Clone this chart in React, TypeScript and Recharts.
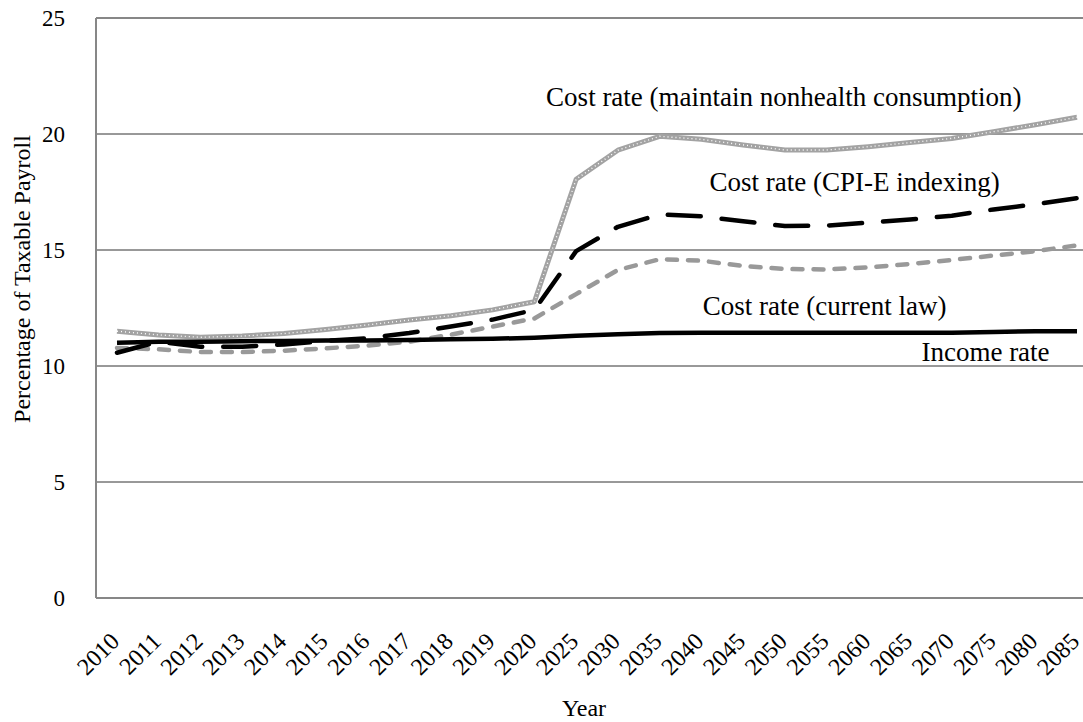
import React from "react";
import {
  CartesianGrid,
  Line,
  LineChart,
  ReferenceDot,
  ReferenceLine,
  XAxis,
  YAxis,
} from "recharts";

const YEARS = [
  "2010", "2011", "2012", "2013", "2014", "2015", "2016", "2017", "2018", "2019", "2020",
  "2025", "2030", "2035", "2040", "2045", "2050", "2055", "2060", "2065", "2070", "2075", "2080", "2085",
];

const INCOME_RATE = [
  11.0, 11.05, 11.05, 11.07, 11.08, 11.1, 11.1, 11.12, 11.15, 11.17, 11.22,
  11.3, 11.37, 11.42, 11.43, 11.43, 11.43, 11.43, 11.43, 11.43, 11.43, 11.47, 11.5, 11.5,
];

const COST_CURRENT_LAW = [
  10.78, 10.72, 10.6, 10.6, 10.66, 10.76, 10.88, 11.05, 11.35, 11.7, 12.05,
  13.1, 14.14, 14.6, 14.54, 14.31, 14.18, 14.16, 14.25, 14.4, 14.57, 14.76, 14.95, 15.2,
];

const COST_CPI_E = [
  10.57, 11.05, 10.83, 10.83, 10.93, 11.08, 11.2, 11.42, 11.7, 12.0, 12.42,
  14.95, 16.0, 16.53, 16.45, 16.24, 16.03, 16.05, 16.18, 16.31, 16.48, 16.75, 16.97, 17.23,
];

const COST_MAINTAIN = [
  11.5, 11.34, 11.24, 11.29, 11.4, 11.57, 11.77, 11.98, 12.17, 12.42, 12.77,
  18.05, 19.3, 19.9, 19.77, 19.53, 19.31, 19.31, 19.45, 19.63, 19.81, 20.1, 20.4, 20.72,
];

const Y_TICKS = [0, 5, 10, 15, 20, 25];

const data = YEARS.map((year, i) => ({
  year,
  income: INCOME_RATE[i],
  currentLaw: COST_CURRENT_LAW[i],
  cpiE: COST_CPI_E[i],
  maintain: COST_MAINTAIN[i],
}));

const FONT = '"Times New Roman", "Liberation Serif", serif';
const BORDER = "#878787";

function XTick(props: any) {
  const { x, y, payload } = props;
  const tx = x - 2;
  const ty = y + 37;
  return (
    <text
      x={tx}
      y={ty}
      transform={`rotate(-45 ${tx} ${ty})`}
      textAnchor="end"
      dominantBaseline="central"
      fontFamily={FONT}
      fontSize={24}
      fill="#000"
    >
      {payload.value}
    </text>
  );
}

function note(text: string, dx = 0) {
  return (props: any) => {
    const vb = props.viewBox || {};
    const cx = vb.x + (vb.width || 0) / 2 + dx;
    const cy = vb.y + (vb.height || 0) / 2;
    return (
      <text
        x={cx}
        y={cy}
        textAnchor="middle"
        dominantBaseline="central"
        fontFamily={FONT}
        fontSize={27}
        fill="#000"
      >
        {text}
      </text>
    );
  };
}

export default function App() {
  return (
    <div
      style={{
        position: "absolute",
        left: 0,
        top: 0,
        width: 1083,
        height: 722,
        overflow: "hidden",
        background: "#fff",
      }}
    >
      <LineChart
        width={1118}
        height={722}
        data={data}
        margin={{ top: 18, right: 20, left: 8, bottom: 0 }}
      >
        <CartesianGrid
          vertical={false}
          horizontalValues={[5, 10, 15, 20]}
          stroke="#333"
          strokeWidth={1}
        />
        <XAxis
          dataKey="year"
          height={124}
          padding={{ left: 21, right: 21 }}
          interval={0}
          tickSize={0}
          tickLine={false}
          axisLine={{ stroke: BORDER, strokeWidth: 2 }}
          tick={<XTick />}
          label={(props: any) => {
            const vb = props.viewBox;
            return (
              <text
                x={vb.x + vb.width / 2 - 13}
                y={vb.y + vb.height - 6}
                textAnchor="middle"
                fontFamily={FONT}
                fontSize={24}
                fill="#000"
              >
                Year
              </text>
            );
          }}
        />
        <YAxis
          width={88}
          domain={[0, 25]}
          ticks={Y_TICKS}
          interval={0}
          tickSize={0}
          tickMargin={31}
          tickLine={false}
          axisLine={{ stroke: BORDER, strokeWidth: 2 }}
          tick={{ fontFamily: FONT, fontSize: 23, fill: "#000" }}
          label={(props: any) => {
            const vb = props.viewBox;
            const cx = 22;
            const cy = vb.y + vb.height / 2 - 29;
            return (
              <text
                x={cx}
                y={cy}
                transform={`rotate(-90 ${cx} ${cy})`}
                textAnchor="middle"
                dominantBaseline="central"
                fontFamily={FONT}
                fontSize={24}
                fill="#000"
              >
                Percentage of Taxable Payroll
              </text>
            );
          }}
        />
        <ReferenceLine y={25} stroke={BORDER} strokeWidth={2} />

        <Line
          type="linear"
          dataKey="maintain"
          stroke="#a3a3a3"
          strokeWidth={5}
          strokeLinejoin="round"
          dot={false}
          activeDot={false}
          isAnimationActive={false}
        />
        <Line
          type="linear"
          dataKey="maintain"
          stroke="#ffffff"
          strokeWidth={1.4}
          strokeDasharray="1 3"
          dot={false}
          activeDot={false}
          legendType="none"
          isAnimationActive={false}
        />
        <Line
          type="linear"
          dataKey="currentLaw"
          stroke="#999999"
          strokeWidth={4.5}
          strokeDasharray="10 11"
          strokeLinecap="round"
          strokeLinejoin="round"
          dot={false}
          activeDot={false}
          isAnimationActive={false}
        />
        <Line
          type="linear"
          dataKey="cpiE"
          stroke="#000"
          strokeWidth={4.5}
          strokeDasharray="33 21"
          strokeLinecap="round"
          strokeLinejoin="round"
          dot={false}
          activeDot={false}
          isAnimationActive={false}
        />
        <Line
          type="linear"
          dataKey="income"
          stroke="#000"
          strokeWidth={4.5}
          strokeLinejoin="round"
          dot={false}
          activeDot={false}
          isAnimationActive={false}
        />

        <ReferenceDot x="2050" y={21.6} r={0} fill="none" stroke="none"
          label={note("Cost rate (maintain nonhealth consumption)", -1)} />
        <ReferenceDot x="2055" y={17.95} r={0} fill="none" stroke="none"
          label={note("Cost rate (CPI-E indexing)", 28)} />
        <ReferenceDot x="2055" y={12.6} r={0} fill="none" stroke="none"
          label={note("Cost rate (current law)", -2)} />
        <ReferenceDot x="2075" y={10.6} r={0} fill="none" stroke="none"
          label={note("Income rate", -8)} />
      </LineChart>
    </div>
  );
}
